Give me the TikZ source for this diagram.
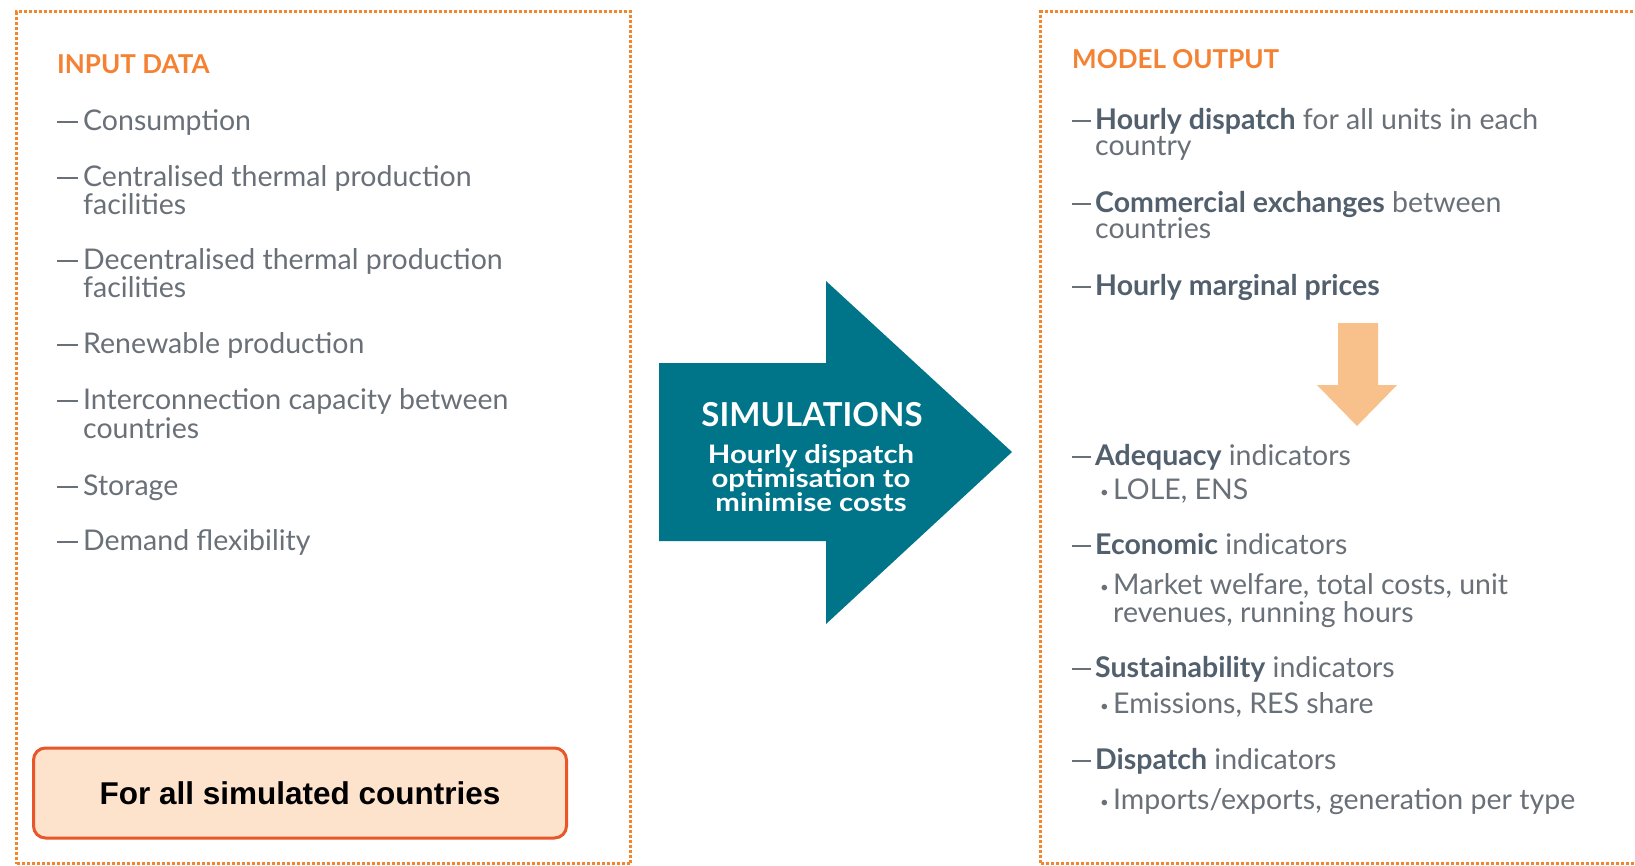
\documentclass[tikz,border=0pt]{standalone}
\usepackage{fontspec}
\setmainfont{Lato}
\newfontfamily\arialfont{Liberation Sans}
\newfontfamily\simfont[FakeStretch=1.15]{Lato}
\definecolor{frameor}{RGB}{244,134,42}
\definecolor{heador}{RGB}{245,130,50}
\definecolor{txtgray}{RGB}{105,112,120}
\definecolor{boldgray}{RGB}{82,96,110}
\definecolor{teal}{RGB}{0,117,137}
\definecolor{lightor}{RGB}{248,192,138}
\definecolor{peach}{RGB}{253,226,204}
\definecolor{redor}{RGB}{232,86,42}
\newcommand{\dsh}[2]{\makebox[#1][l]{\rule[7.5pt]{#2}{1.7pt}}}
\newcommand{\bul}{\makebox[13pt][l]{\raisebox{0.12ex}{\fontsize{15}{15}\selectfont\textbullet}}}
\newcommand{\bt}[1]{{\bfseries\color{boldgray}#1}}
\begin{document}
\begin{tikzpicture}[x=1pt,y=-1pt,
  frame/.style={draw=frameor, line width=3pt, dash pattern=on 3pt off 2pt, anchor=north west, inner sep=0pt},
  head/.style={anchor=mid west, inner sep=0pt, font=\fontsize{26}{30}\selectfont\bfseries, text=heador},
  itm/.style={anchor=mid west, inner sep=0pt, font=\fontsize{28.5}{30}\selectfont, text=txtgray},
  ritm/.style={anchor=mid west, inner sep=0pt, font=\fontsize{28.5}{30}\selectfont, text=txtgray},
  simtxt/.style={text=white, anchor=mid, inner sep=0pt, font=\simfont\bfseries\fontsize{25.5}{26}\selectfont}]
\useasboundingbox (0,0) rectangle (1635,865);
\clip (0,0) rectangle (1635,865);
\fill[white] (0,0) rectangle (1635,865);
% frames
\node[frame, minimum width=614pt, minimum height=852pt] (inbox) at (15,10) {};
\node[frame, minimum width=700pt, minimum height=852pt] (outbox) at (1039,10) {};
% input data
\node[head] (inh) at (57,71) {INPUT DATA};
\node[itm] (i1) at (57,128) {\dsh{26pt}{21pt}Consumption};
\node[itm] (i2) at (57,184) {\dsh{26pt}{21pt}Centralised thermal production};
\node[itm] (i2b) at (83,212) {facilities};
\node[itm] (i3) at (57,267) {\dsh{26pt}{21pt}Decentralised thermal production};
\node[itm] (i3b) at (83,295) {facilities};
\node[itm] (i4) at (57,351) {\dsh{26pt}{21pt}Renewable production};
\node[itm] (i5) at (57,407) {\dsh{26pt}{21pt}Interconnection capacity between};
\node[itm] (i5b) at (83,436) {countries};
\node[itm] (i6) at (57,493) {\dsh{26pt}{21pt}Storage};
\node[itm] (i7) at (57,548) {\dsh{26pt}{21pt}Demand flexibility};
% for all countries box
\node[draw=redor, fill=peach, line width=3pt, rounded corners=12pt, minimum width=533pt, minimum height=90pt, font=\arialfont\fontsize{31.5}{34}\selectfont\bfseries, text=black] (allc) at (300,793) {For all simulated countries};
% teal arrow
\fill[teal] (659,363) -- (826,363) -- (826,281) -- (1012,452) -- (826,624) -- (826,541) -- (659,541) -- cycle;
\node[text=white, anchor=mid, inner sep=0pt, font=\bfseries\fontsize{33}{34}\selectfont] (sim) at (812,424) {SIMULATIONS};
\node[simtxt] (sim1) at (811,461) {Hourly dispatch};
\node[simtxt] (sim2) at (811,485) {optimisation to};
\node[simtxt] (sim3) at (811,509) {minimise costs};
% model output
\node[head] (outh) at (1072,66) {MODEL OUTPUT};
\node[ritm] (o1) at (1072,127) {\dsh{23pt}{19pt}\bt{Hourly dispatch} for all units in each};
\node[ritm] (o1b) at (1095,153) {country};
\node[ritm] (o2) at (1072,210) {\dsh{23pt}{19pt}\bt{Commercial exchanges} between};
\node[ritm] (o2b) at (1095,236) {countries};
\node[ritm] (o3) at (1072,293) {\dsh{23pt}{19pt}\bt{Hourly marginal prices}};
% down arrow
\fill[lightor] (1338,323) -- (1378,323) -- (1378,385) -- (1397,385) -- (1357,426) -- (1317,385) -- (1338,385) -- cycle;
\node[ritm] (o4) at (1072,463) {\dsh{23pt}{19pt}\bt{Adequacy} indicators};
\node[ritm] (o4a) at (1100,497) {\bul LOLE, ENS};
\node[ritm] (o5) at (1072,552) {\dsh{23pt}{19pt}\bt{Economic} indicators};
\node[ritm] (o5a) at (1100,592) {\bul Market welfare, total costs, unit};
\node[ritm] (o5b) at (1113,620) {revenues, running hours};
\node[ritm] (o6) at (1072,675) {\dsh{23pt}{19pt}\bt{Sustainability} indicators};
\node[ritm] (o6a) at (1100,711) {\bul Emissions, RES share};
\node[ritm] (o7) at (1072,767) {\dsh{23pt}{19pt}\bt{Dispatch} indicators};
\node[ritm] (o7a) at (1100,807) {\bul Imports/exports, generation per type};
\end{tikzpicture}
\end{document}
